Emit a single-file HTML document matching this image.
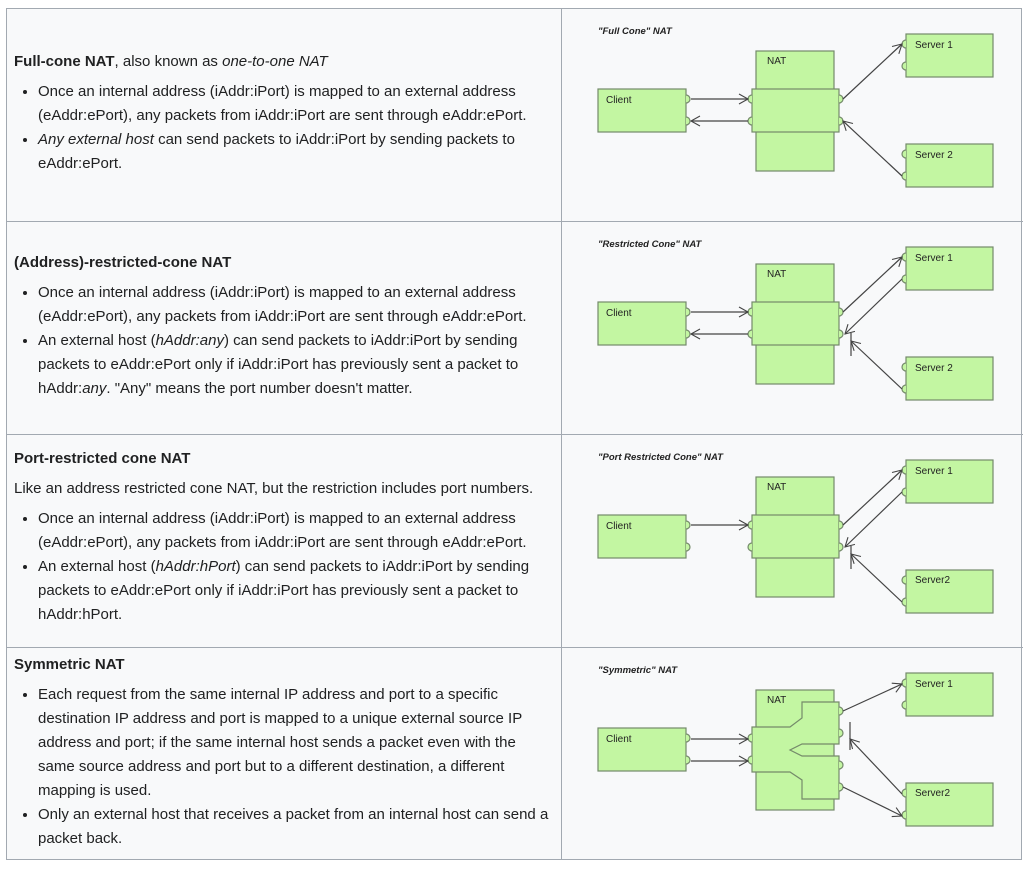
<!DOCTYPE html>
<html><head><meta charset="utf-8"><style>
body{margin:0;width:1033px;height:869px;background:#fff;font-family:"Liberation Sans",Arial,sans-serif;color:#202122;position:relative;overflow:hidden}
.tbl{position:absolute;left:6px;top:8px;width:1016px;height:852px;background:#f8f9fa;border:1px solid #a2a9b1;box-sizing:border-box}
.hl{position:absolute;left:6px;width:1017px;height:1px;background:#a2a9b1}
.vl{position:absolute;left:561px;top:8px;width:1px;height:852px;background:#a2a9b1}
.blk{position:absolute;left:14px;width:536px;font-size:15px;line-height:24px}
.blk p{margin:0 0 6px 0}
.blk ul{margin:0;padding:0 0 0 24px}
.blk li{margin:0}
b{font-weight:bold}
svg{position:absolute;left:0;top:0}
</style></head><body>
<div class="tbl"></div>
<div class="hl" style="top:221px"></div>
<div class="hl" style="top:434px"></div>
<div class="hl" style="top:647px"></div>
<div class="vl"></div>

<div class="blk" style="top:50px">
<p><b>Full-cone NAT</b>, also known as <i>one-to-one NAT</i></p>
<ul><li>Once an internal address (iAddr:iPort) is mapped to an external address (eAddr:ePort), any packets from iAddr:iPort are sent through eAddr:ePort.</li>
<li><i>Any external host</i> can send packets to iAddr:iPort by sending packets to eAddr:ePort.</li></ul>
</div>
<div class="blk" style="top:251px">
<p><b>(Address)-restricted-cone NAT</b></p>
<ul><li>Once an internal address (iAddr:iPort) is mapped to an external address (eAddr:ePort), any packets from iAddr:iPort are sent through eAddr:ePort.</li>
<li>An external host (<i>hAddr:any</i>) can send packets to iAddr:iPort by sending packets to eAddr:ePort only if iAddr:iPort has previously sent a packet to hAddr:<i>any</i>. "Any" means the port number doesn't matter.</li></ul>
</div>
<div class="blk" style="top:447px">
<p><b>Port-restricted cone NAT</b></p>
<p>Like an address restricted cone NAT, but the restriction includes port numbers.</p>
<ul><li>Once an internal address (iAddr:iPort) is mapped to an external address (eAddr:ePort), any packets from iAddr:iPort are sent through eAddr:ePort.</li>
<li>An external host (<i>hAddr:hPort</i>) can send packets to iAddr:iPort by sending packets to eAddr:ePort only if iAddr:iPort has previously sent a packet to hAddr:hPort.</li></ul>
</div>
<div class="blk" style="top:653px">
<p><b>Symmetric NAT</b></p>
<ul><li>Each request from the same internal IP address and port to a specific destination IP address and port is mapped to a unique external source IP address and port; if the same internal host sends a packet even with the same source address and port but to a different destination, a different mapping is used.</li>
<li>Only an external host that receives a packet from an internal host can send a packet back.</li></ul>
</div>

<svg width="1033" height="869" viewBox="0 0 1033 869" font-family="Liberation Sans,Arial,sans-serif">
<defs>
<marker id="a" markerWidth="12" markerHeight="12" refX="10" refY="6" orient="auto" markerUnits="userSpaceOnUse">
<path d="M1,1 L10,6 L1,11" fill="none" stroke="#444" stroke-width="1.1"/></marker>
</defs>
<g fill="#c3f6a2" stroke="#748a6a" stroke-width="1.2">
<g>
<rect x="756" y="51" width="78" height="120"/>
<rect x="752" y="89" width="87" height="43"/>
<rect x="598" y="89" width="88" height="43"/>
<rect x="906" y="34" width="87" height="43"/>
<rect x="906" y="144" width="87" height="43"/>
<path d="M686,95a4,4 0 0 1 0,8M686,117a4,4 0 0 1 0,8M752,95a4,4 0 0 0 0,8M752,117a4,4 0 0 0 0,8M839,95a4,4 0 0 1 0,8M839,117a4,4 0 0 1 0,8M906,40a4,4 0 0 0 0,8M906,62a4,4 0 0 0 0,8M906,150a4,4 0 0 0 0,8M906,172a4,4 0 0 0 0,8"/>
</g>
<g transform="translate(0,213)">
<rect x="756" y="51" width="78" height="120"/>
<rect x="752" y="89" width="87" height="43"/>
<rect x="598" y="89" width="88" height="43"/>
<rect x="906" y="34" width="87" height="43"/>
<rect x="906" y="144" width="87" height="43"/>
<path d="M686,95a4,4 0 0 1 0,8M686,117a4,4 0 0 1 0,8M752,95a4,4 0 0 0 0,8M752,117a4,4 0 0 0 0,8M839,95a4,4 0 0 1 0,8M839,117a4,4 0 0 1 0,8M906,40a4,4 0 0 0 0,8M906,62a4,4 0 0 0 0,8M906,150a4,4 0 0 0 0,8M906,172a4,4 0 0 0 0,8"/>
</g>
<g transform="translate(0,426)">
<rect x="756" y="51" width="78" height="120"/>
<rect x="752" y="89" width="87" height="43"/>
<rect x="598" y="89" width="88" height="43"/>
<rect x="906" y="34" width="87" height="43"/>
<rect x="906" y="144" width="87" height="43"/>
<path d="M686,95a4,4 0 0 1 0,8M686,117a4,4 0 0 1 0,8M752,95a4,4 0 0 0 0,8M752,117a4,4 0 0 0 0,8M839,95a4,4 0 0 1 0,8M839,117a4,4 0 0 1 0,8M906,40a4,4 0 0 0 0,8M906,62a4,4 0 0 0 0,8M906,150a4,4 0 0 0 0,8M906,172a4,4 0 0 0 0,8"/>
</g>
<g>
<rect x="756" y="690" width="78" height="120"/>
<path d="M752,727 L790,727 L802,718 L802,702 L839,702 L839,744 L802,744 L790,750 L802,756 L839,756 L839,799 L802,799 L802,780 L790,772 L752,772 Z"/>
<rect x="598" y="728" width="88" height="43"/>
<rect x="906" y="673" width="87" height="43"/>
<rect x="906" y="783" width="87" height="43"/>
<path d="M686,734a4,4 0 0 1 0,8M686,756a4,4 0 0 1 0,8M752,734a4,4 0 0 0 0,8M752,756a4,4 0 0 0 0,8M839,707a4,4 0 0 1 0,8M839,729a4,4 0 0 1 0,8M839,761a4,4 0 0 1 0,8M839,783a4,4 0 0 1 0,8M906,679a4,4 0 0 0 0,8M906,701a4,4 0 0 0 0,8M906,789a4,4 0 0 0 0,8M906,811a4,4 0 0 0 0,8"/>
</g>
</g>
<g stroke="#444" stroke-width="1.2" fill="none" marker-end="url(#a)">
<path d="M691,99H748"/><path d="M748,121H691"/><path d="M843,99L902,44"/><path d="M902,176L843,121"/>
<path d="M691,312H748"/><path d="M748,334H691"/><path d="M843,312L902,257"/><path d="M902,279L845,334"/><path d="M902,389L851,341"/>
<path d="M691,525H748"/><path d="M843,525L902,470"/><path d="M902,492L845,547"/><path d="M902,602L851,554"/>
<path d="M691,739H748"/><path d="M691,761H748"/><path d="M843,711L902,684"/><path d="M843,787L902,816"/><path d="M902,794L850,739"/>
</g>
<g stroke="#444" stroke-width="1.2"><path d="M851,333V356M851,546V569M850,722V750"/></g>
<g font-size="10" fill="#222">
<g font-style="italic" font-weight="bold" font-size="9.5">
<text x="598" y="34">"Full Cone" NAT</text>
<text x="598" y="247">"Restricted Cone" NAT</text>
<text x="598" y="460">"Port Restricted Cone" NAT</text>
<text x="598" y="673">"Symmetric" NAT</text></g>
<text x="606" y="103">Client</text><text x="767" y="64">NAT</text><text x="915" y="48">Server 1</text><text x="915" y="158">Server 2</text>
<text x="606" y="316">Client</text><text x="767" y="277">NAT</text><text x="915" y="261">Server 1</text><text x="915" y="371">Server 2</text>
<text x="606" y="529">Client</text><text x="767" y="490">NAT</text><text x="915" y="474">Server 1</text><text x="915" y="583">Server2</text>
<text x="606" y="742">Client</text><text x="767" y="703">NAT</text><text x="915" y="687">Server 1</text><text x="915" y="796">Server2</text>
</g>
</svg>
</body></html>
